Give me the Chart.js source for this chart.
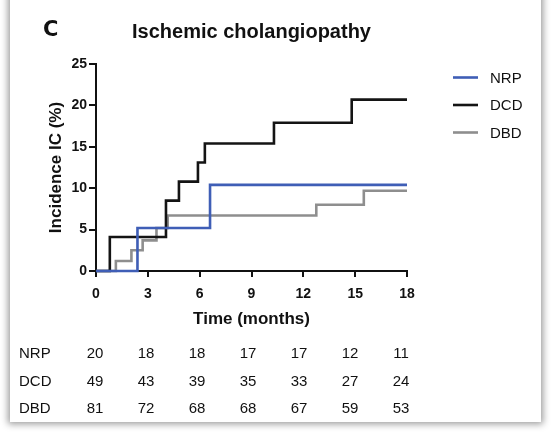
<!DOCTYPE html>
<html>
<head>
<meta charset="utf-8">
<script src="https://cdn.jsdelivr.net/npm/chart.js@4"></script>
<style>
html, body { margin: 0; padding: 0; background: #fff; width: 551px; height: 432px; overflow: hidden; }
#card { position: absolute; left: 10px; top: -20px; width: 531px; height: 442px; background: #fff; box-shadow: 0 0 7px 2px rgba(0,0,0,0.4); }
#chart { position: absolute; left: 0; top: 0; }
</style>
</head>
<body>
<div id="card"></div>
<canvas id="chart" width="551" height="432"></canvas>
<script>
// Kaplan-Meier style cumulative incidence
const groups = ['NRP', 'DCD', 'DBD']
const colors = ['#3f5eb6', '#141414', '#8e8e8e']

const nrp_months = [0, 2.4, 6.6, 18]
const nrp_incidence = [0, 5.2, 10.4, 10.4]
const dcd_months = [0, 0.8, 4.05, 4.8, 5.9, 6.3, 10.3, 14.8, 18]
const dcd_incidence = [0, 4.1, 8.5, 10.8, 13.1, 15.4, 17.9, 20.7, 20.7]
const dbd_months = [0, 1.15, 2.05, 2.7, 3.5, 4.15, 12.75, 15.5, 18]
const dbd_incidence = [0, 1.2, 2.5, 3.7, 5.2, 6.7, 8.0, 9.7, 9.7]

const x_ticks = [0, 3, 6, 9, 12, 15, 18]
const y_ticks = [0, 5, 10, 15, 20, 25]

// number at risk
const at_risk_nrp = [20, 18, 18, 17, 17, 12, 11]
const at_risk_dcd = [49, 43, 39, 35, 33, 27, 24]
const at_risk_dbd = [81, 72, 68, 68, 67, 59, 53]

function points(xs, ys) {
    let out = []
    for (let i = 0; i < xs.length; i++) out.push({x: xs[i], y: ys[i]})
    return out
}

const series = [points(nrp_months, nrp_incidence), points(dcd_months, dcd_incidence), points(dbd_months, dbd_incidence)]
const at_risk = [at_risk_nrp, at_risk_dcd, at_risk_dbd]

let datasets = []
for (let i = 0; i < groups.length; i++) {
    datasets.push({
        label: groups[i],
        data: series[i],
        borderColor: colors[i],
        backgroundColor: colors[i],
        borderWidth: 2.6,
        stepped: true,
        pointRadius: 0,
        clip: 4
    })
}

const sans = "'Liberation Sans', Arial, sans-serif"

const extras = {
    id: 'extras',
    afterDraw(chart) {
        const ctx = chart.ctx
        ctx.save()
        // panel letter
        ctx.fillStyle = '#111'
        ctx.font = "bold 21px 'DejaVu Sans', sans-serif"
        ctx.textAlign = 'left'
        ctx.textBaseline = 'alphabetic'
        ctx.fillText('C', 43, 36)

        // legend
        ctx.font = '15px ' + sans
        ctx.textBaseline = 'middle'
        chart.data.datasets.forEach((ds, i) => {
            const y = 77.5 + i * 27.5
            ctx.strokeStyle = ds.borderColor
            ctx.lineWidth = 2.6
            ctx.beginPath()
            ctx.moveTo(453, y)
            ctx.lineTo(478, y)
            ctx.stroke()
            ctx.fillStyle = '#111'
            ctx.fillText(ds.label, 490, y + 1)
        })

        // number at risk table
        ctx.font = '15px ' + sans
        for (let r = 0; r < groups.length; r++) {
            const y = 354 + r * 27.5
            ctx.textAlign = 'left'
            ctx.fillText(groups[r], 19, y)
            ctx.textAlign = 'center'
            for (let c = 0; c < at_risk[r].length; c++) {
                ctx.fillText(String(at_risk[r][c]), 95 + c * 51, y)
            }
        }
        ctx.restore()
    }
}

new Chart(document.getElementById('chart'), {
    type: 'line',
    data: {datasets: datasets},
    plugins: [extras],
    options: {
        responsive: false,
        animation: false,
        layout: {padding: {left: 46, right: 144, top: 0, bottom: 102}},
        plugins: {
            legend: {display: false},
            tooltip: {enabled: false},
            title: {
                display: true,
                text: 'Ischemic cholangiopathy',
                fullSize: false,
                color: '#111',
                font: {family: sans, size: 20, weight: 'bold'},
                padding: {top: 20, bottom: 20}
            }
        },
        scales: {
            x: {
                type: 'linear',
                min: 0,
                max: 18,
                afterBuildTicks: s => { s.ticks = x_ticks.map(v => ({value: v})) },
                afterFit: s => { s.height = 59 },
                border: {color: '#111', width: 2},
                grid: {drawOnChartArea: false, drawTicks: true, tickLength: 6, color: '#111', lineWidth: 2},
                ticks: {color: '#111', padding: 9, maxRotation: 0, font: {family: sans, size: 14, weight: 'bold'}},
                title: {display: true, text: 'Time (months)', color: '#111', padding: {top: 0, bottom: 0},
                        font: {family: sans, size: 17, weight: 'bold'}}
            },
            y: {
                min: 0,
                max: 25,
                afterBuildTicks: s => { s.ticks = y_ticks.map(v => ({value: v})) },
                afterFit: s => { s.width = 50 },
                border: {color: '#111', width: 2},
                grid: {drawOnChartArea: false, drawTicks: true, tickLength: 7, color: '#111', lineWidth: 2},
                ticks: {color: '#111', padding: 2, font: {family: sans, size: 14, weight: 'bold'}},
                title: {display: true, text: 'Incidence IC (%)', color: '#111', padding: {top: 0, bottom: 0},
                        font: {family: sans, size: 17, weight: 'bold'}}
            }
        }
    }
})
</script>
</body>
</html>
